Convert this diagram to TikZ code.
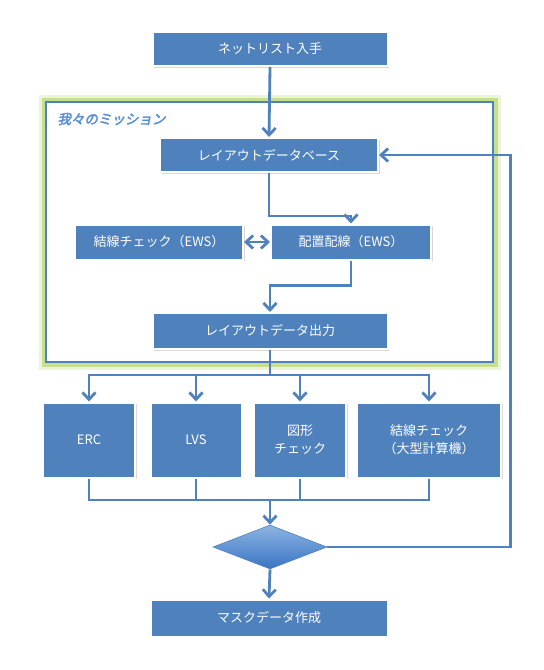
\documentclass[tikz,border=0pt]{standalone}
\usepackage{fontspec}
\setmainfont{Noto Sans CJK JP}
\newfontfamily\missionfont[FakeBold=2.5,FakeSlant=0.2]{Noto Sans CJK JP}
\usetikzlibrary{arrows.meta,shapes.geometric,shadows}

\definecolor{boxblue}{RGB}{79,129,189}
\definecolor{missionblue}{RGB}{85,142,213}
\definecolor{glowgreen}{RGB}{188,218,125}
\definecolor{dialight}{RGB}{141,180,226}
\definecolor{diadark}{RGB}{58,116,196}

\begin{document}
\begin{tikzpicture}[x=1pt,y=-1pt,
    box/.style={draw=white, line width=2pt, fill=boxblue, text=white, inner sep=0pt,
      font=\fontsize{13}{18}\selectfont, align=center,
      drop shadow={shadow xshift=1.5pt, shadow yshift=-1.5pt, opacity=0.3}},
    link/.style={draw=boxblue, line width=2.8pt},
    flow/.style={link, -{Straight Barb[length=7pt,width=13pt]}},
    twoway/.style={link, {Straight Barb[length=7pt,width=13pt]}-{Straight Barb[length=7pt,width=13pt]}}]
        \useasboundingbox (0,0) rectangle (544,670);

        % mission frame
        \draw[glowgreen, line width=15pt, opacity=0.3] (46,102) rectangle (493,362);
        \draw[glowgreen, line width=9pt, opacity=0.8] (46,102) rectangle (493,362);
        \draw[fill=white, draw=boxblue, line width=1.2pt] (46,102) rectangle (493,362);
        \node[font=\missionfont\fontsize{13.5}{15}\selectfont, text=missionblue, anchor=west]
            (mission) at (54,119) {我々のミッション};

        % boxes
        \node[box, minimum width=235pt, minimum height=34pt] (net) at (270,49) {ネットリスト入手};
        \node[box, minimum width=218pt, minimum height=34pt] (db) at (269,155) {レイアウトデータベース};
        \node[box, minimum width=168pt, minimum height=35pt] (chk) at (159,242) {結線チェック（EWS）};
        \node[box, minimum width=160pt, minimum height=35pt] (pr) at (351,242) {配置配線（EWS）};
        \node[box, minimum width=235pt, minimum height=36pt] (out) at (270,331) {レイアウトデータ出力};
        \node[box, minimum width=92pt, minimum height=75pt] (erc) at (89,440) {ERC};
        \node[box, minimum width=91pt, minimum height=75pt] (lvs) at (196,440) {LVS};
        \node[box, minimum width=92pt, minimum height=75pt] (fig) at (300,440) {図形\\チェック};
        \node[box, minimum width=144pt, minimum height=75pt] (big) at (429,440) {結線チェック\\（大型計算機）};
        \node[box, minimum width=237pt, minimum height=37pt] (mask) at (269,618) {マスクデータ作成};

        % decision
        \node[diamond, draw=boxblue, line width=0.6pt, top color=dialight, bottom color=diadark,
            minimum width=114pt, minimum height=44pt, inner sep=0pt] (dec) at (270,547) {};

        % flow inside the frame
        \draw[flow] (net.south) -- (db.north);
        \draw[flow] (db.south) -- ++(0,43) -| (pr.north);
        \draw[twoway] (chk.east) -- (pr.west);
        \draw[flow] (pr.south) -- ++(0,25) -| (out.north);

        % checks
        \coordinate (split) at (270,375);
        \draw[link] (out.south) -- (split);
        \draw[flow] (split) -| (erc.north);
        \draw[flow] (split) -| (lvs.north);
        \draw[flow] (split) -| (fig.north);
        \draw[flow] (split) -| (big.north);

        \coordinate (merge) at (270,500);
        \draw[link] (erc.south) |- (merge);
        \draw[link] (lvs.south) |- (merge);
        \draw[link] (fig.south) |- (merge);
        \draw[link] (big.south) |- (merge);
        \draw[flow] (merge) -- (dec.north);

        % back to the database, or on to the mask
        \draw[flow] (dec.east) -- ++(183,0) |- (db.east);
        \draw[flow] (dec.south) -- (mask.north);
    \end{tikzpicture}
\end{document}
